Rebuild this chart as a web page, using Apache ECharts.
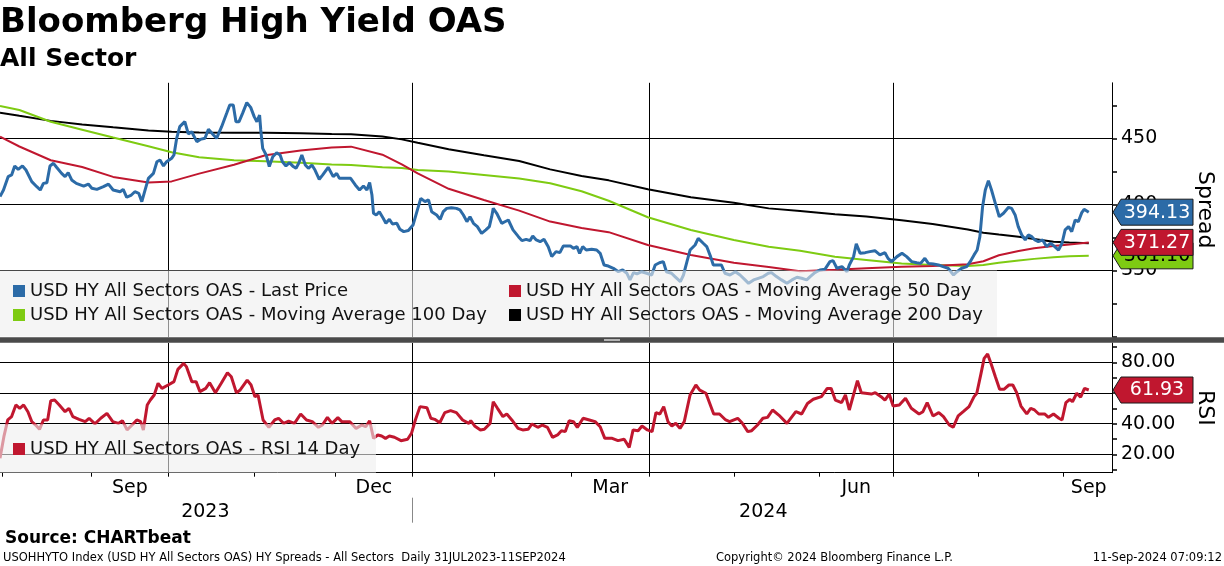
<!DOCTYPE html>
<html>
<head>
<meta charset="utf-8">
<title>Bloomberg High Yield OAS</title>
<script src="https://cdn.jsdelivr.net/npm/echarts@6/dist/echarts.min.js"></script>
<style>
  html, body { margin: 0; padding: 0; background: #fff; }
  #chart { width: 1224px; height: 566px; }
</style>
</head>
<body>
<div id="chart"></div>
<script>
// trading calendar (bond market days, weekends and these holidays skipped)
var firstDay = '2023-07-31';
var dayCount = 288;
var holidays = ['2023-09-04', '2023-11-23', '2023-12-25', '2024-01-01', '2024-01-15', '2024-02-19',
  '2024-03-29', '2024-05-27', '2024-06-19', '2024-07-04', '2024-09-02'];
var labelMonths = ['2023-09', '2023-12', '2024-03', '2024-06', '2024-09'];
var monthNames = ['Jan', 'Feb', 'Mar', 'Apr', 'May', 'Jun', 'Jul', 'Aug', 'Sep', 'Oct', 'Nov', 'Dec'];

// axis ticks / labels
var spreadTicks = [300, 325, 350, 375, 400, 425, 450, 475];
var spreadLabels = [350, 400, 450];
var rsiTicks = [10, 20, 30, 40, 50, 60, 70, 80, 90];
var rsiLabels = [20, 40, 60, 80];

var names = [
  'USD HY All Sectors OAS - Last Price',
  'USD HY All Sectors OAS - Moving Average 50 Day',
  'USD HY All Sectors OAS - Moving Average 100 Day',
  'USD HY All Sectors OAS - Moving Average 200 Day',
  'USD HY All Sectors OAS - RSI 14 Day'
];

// [trading day, spread]
var lastPrice = [[0,405.9],[0.9,410.9],[2.1,421.0],[3.0,422.3],[3.8,429.1],[4.7,426.5],[5.8,429.1],[6.7,426.0],
  [8.2,417.2],[9.5,413.4],[10.4,410.9],[11.2,415.9],[12.1,416.4],[12.9,429.1],[13.8,431.1],[14.6,428.1],
  [15.9,423.5],[16.8,421.0],[17.6,424.0],[18.5,418.5],[19.7,415.9],[21.6,413.9],[22.8,415.4],[23.7,412.2],
  [25.0,411.4],[26.7,413.4],[28.0,415.4],[29.2,410.9],[31.0,409.6],[31.8,411.4],[32.7,405.4],[33.9,407.1],
  [34.8,409.6],[35.8,408.4],[36.6,402.1],[37.2,408.4],[38.3,419.7],[39.6,423.5],[40.5,432.3],[41.3,433.6],
  [42.2,429.1],[43.0,432.3],[44.3,434.9],[44.9,437.4],[45.6,450.0],[46.4,458.8],[47.7,462.6],[48.6,453.3],
  [49.5,455.0],[49.9,452.5],[50.8,447.5],[51.7,449.2],[52.9,450.0],[53.8,456.8],[55.1,452.5],[55.9,450.0],
  [57.2,458.8],[58.5,468.9],[59.3,475.2],[60.2,475.2],[60.9,462.6],[61.7,462.6],[62.6,468.9],[63.7,477.0],
  [64.7,473.4],[65.6,466.4],[66.3,462.6],[67.0,467.6],[67.3,456.3],[67.8,442.4],[68.7,437.4],[69.5,428.6],
  [70.4,436.1],[71.4,439.1],[72.3,437.4],[72.9,432.3],[73.8,429.1],[74.7,431.6],[75.7,428.6],[76.4,427.3],
  [77.1,431.1],[77.9,437.4],[78.8,429.8],[79.6,427.3],[80.5,429.8],[81.3,426.0],[82.4,419.0],[83.3,422.3],
  [84.7,428.1],[86.0,421.0],[86.9,423.5],[87.6,419.7],[88.6,419.7],[90.5,419.7],[91.7,414.7],[92.8,410.9],
  [93.8,413.9],[94.7,410.9],[95.4,416.5],[96.0,407.1],[96.4,393.3],[97.1,392.0],[97.9,394.5],[98.9,389.5],
  [99.6,385.7],[100.5,388.7],[101.3,385.2],[102.4,385.7],[103.2,381.2],[104.2,379.4],[105.4,380.2],[106.6,384.4],
  [107.6,394.5],[108.6,404.6],[109.7,402.1],[110.6,403.4],[111.4,394.5],[112.7,392.0],[113.6,388.7],[114.4,394.5],
  [115.3,397.0],[116.5,397.5],[117.8,397.0],[118.7,395.8],[119.6,392.0],[120.5,387.0],[121.3,390.7],[122.2,385.7],
  [123.2,383.2],[124.3,378.1],[125.4,380.7],[126.3,383.2],[126.9,390.7],[127.3,397.0],[128.2,393.3],[129.5,385.7],
  [130.3,386.9],[131.2,388.2],[132.4,380.7],[133.8,375.6],[134.7,372.6],[135.8,373.6],[136.8,372.6],[137.5,376.1],
  [138.4,373.1],[139.4,371.8],[140.4,373.6],[141.5,368.0],[142.4,360.5],[143.5,364.3],[144.5,363.5],[145.4,368.6],
  [147.2,368.6],[148.0,366.8],[148.9,368.1],[149.6,363.0],[150.4,368.1],[151.3,365.5],[152.7,366.0],[154.0,365.5],
  [154.9,363.0],[155.9,354.2],[157.0,353.4],[158.3,351.7],[159.6,349.1],[160.7,350.4],[161.8,347.9],[162.6,342.9],
  [163.5,348.4],[164.4,347.4],[165.6,349.1],[166.9,347.9],[168.2,346.6],[169.1,354.2],[170.2,355.9],[171.2,356.7],
  [172.0,349.1],[173.3,347.9],[174.2,345.4],[175.6,341.6],[176.4,346.6],[177.3,356.7],[178.1,365.5],[179.4,369.3],
  [180.2,374.3],[181.5,370.6],[182.4,368.1],[183.4,360.5],[184.1,354.2],[185.4,354.2],[186.2,354.2],[187.1,347.9],
  [188.4,346.6],[189.8,349.1],[191.0,346.6],[192.3,342.9],[193.2,340.3],[194.5,342.9],[195.7,344.1],[197.0,345.4],
  [198.3,347.9],[199.1,348.4],[200.4,345.4],[201.7,342.9],[203.1,340.3],[204.4,342.9],[205.7,344.9],[206.9,344.1],
  [208.2,342.9],[209.1,345.4],[210.3,348.4],[211.6,350.4],[212.9,350.9],[214.2,356.7],[215.0,357.5],[216.0,351.7],
  [217.3,352.9],[218.6,349.1],[219.2,354.2],[220.3,360.5],[221.0,370.1],[222.0,363.0],[223.3,363.5],[224.5,364.3],
  [225.8,365.0],[227.1,361.8],[228.4,363.5],[229.2,359.2],[230.1,356.7],[231.5,360.5],[232.8,363.0],[234.0,360.5],
  [235.3,356.7],[236.6,355.9],[237.6,355.4],[238.7,359.2],[239.6,355.4],[240.9,354.9],[242.2,354.2],[243.4,352.9],
  [244.7,351.7],[246.1,346.6],[247.0,349.1],[248.2,351.7],[249.5,352.9],[250.4,356.7],[251.4,361.8],[252.2,365.5],
  [252.9,375.6],[253.6,398.3],[254.3,410.9],[255.1,418.0],[255.9,410.9],[257.0,399.6],[257.9,390.7],[259.0,393.3],
  [260.3,397.8],[261.1,397.0],[262.0,392.0],[262.8,383.2],[263.7,376.9],[264.6,373.1],[265.4,376.9],[266.3,375.6],
  [267.1,373.1],[268.0,371.8],[269.1,373.1],[270.1,368.1],[271.1,370.6],[272.0,368.6],[273.2,365.5],[274.1,370.6],
  [274.9,380.7],[275.8,383.2],[276.6,379.4],[277.5,388.2],[278.3,386.9],[279.2,393.8],[279.8,396.3],[281,394.13]];

// moving averages, sampled on the same trading days
var maDay = [0, 5, 13.1, 21.2, 29.2, 38.3, 44.3, 51.4, 60.4, 68.5, 77.6, 85.6, 90.6, 98.7, 103.7, 107.8, 115.8,
  124.9, 134, 142, 150.1, 157.1, 167.2, 178.3, 189.4, 198.4, 206.5, 215.5, 223.6, 232.7, 240.7, 249.8, 253.8,
  257.8, 262.9, 266.9, 271.9, 276, 281];
var ma50 = [451.2, 443.8, 433.4, 428.3, 420.8, 416.6, 417.4, 423.3, 430.0, 437.2, 440.7, 443.1, 443.7, 437.6,
  430.3, 423.5, 411.8, 403.3, 395.3, 387.0, 382.2, 379.0, 369.3, 361.7, 355.9, 352.7, 349.5, 350.5, 351.7, 352.9,
  353.4, 354.8, 357.0, 361.5, 364.8, 366.9, 368.5, 369.6, 371.27];
var ma100 = [474.4, 471.4, 462.5, 456.5, 450.6, 444.0, 439.4, 435.7, 433.4, 432.7, 431.5, 430.2, 429.8, 428.2,
  427.6, 426.0, 424.9, 422.3, 419.6, 416.0, 410.0, 402.8, 390.3, 380.6, 373.1, 367.9, 365.0, 360.4, 358.0, 355.3,
  354.2, 353.4, 354.2, 355.8, 357.6, 358.8, 360.0, 360.8, 361.10];
var ma200 = [469.4, 467.0, 463.2, 460.5, 458.3, 456.0, 455.0, 454.4, 454.3, 454.2, 453.8, 453.3, 453.0, 451.3,
  449.2, 446.6, 441.8, 437.2, 432.8, 426.5, 421.5, 418.2, 411.5, 405.4, 401.3, 397.0, 395.0, 392.5, 390.8, 388.1,
  385.2, 381.0, 378.6, 377.2, 375.5, 373.8, 371.8, 371.2, 370.6];

// [trading day, RSI 14]
var rsi14 = [[0,17.4],[1.0,31.5],[2.0,42.4],[3.0,44.6],[4.1,52.2],[5.1,50.0],[6.1,52.2],[7.2,47.8],[8.2,41.3],
  [9.2,39.1],[10.2,36.3],[11.2,42.4],[12.3,42.4],[13.1,55.0],[14.1,55.4],[15.3,52.2],[16.8,47.8],[17.8,50.0],
  [18.8,44.6],[20.4,42.8],[22.0,41.3],[23.0,43.5],[24.5,39.8],[26.0,43.5],[27.6,46.7],[29.1,41.3],[30.6,40.2],
  [31.6,41.9],[32.8,35.9],[34.1,39.1],[35.3,42.4],[36.3,41.3],[37.0,35.9],[38.0,52.2],[38.8,55.4],[39.8,58.7],
  [40.8,66.3],[41.8,63.0],[43.4,65.2],[44.9,67.4],[45.9,75.4],[47.4,79.3],[48.1,77.2],[49.5,67.4],[50.6,67.4],
  [51.6,60.9],[53.1,63.0],[54.1,66.7],[55.6,60.2],[57.1,66.3],[58.7,73.2],[59.7,70.6],[61.0,60.2],[62.0,62.0],
  [63.8,68.4],[64.8,65.2],[65.8,57.6],[66.6,58.7],[67.9,42.4],[69.4,37.6],[70.9,42.4],[71.9,43.5],[73.2,40.2],
  [74.5,41.7],[76.0,40.2],[77.6,46.3],[79.1,42.4],[80.6,41.3],[82.2,37.6],[83.2,39.1],[84.5,44.1],[85.7,40.2],
  [87.2,43.9],[88.2,41.3],[90.3,41.3],[91.9,36.9],[93.4,39.1],[94.4,38.0],[95.4,41.9],[96.4,30.4],[97.5,32.6],
  [98.5,31.9],[99.5,30.4],[100.5,31.9],[101.8,31.1],[103.5,28.9],[105.2,29.8],[106.2,33.7],[107.2,42.4],
  [108.4,51.1],[110.2,50.4],[111.2,43.5],[112.2,42.8],[113.5,40.6],[114.8,47.2],[116.3,48.5],[117.8,47.2],
  [119.4,42.4],[121.0,40.2],[121.5,41.9],[122.5,38.5],[124.0,35.9],[125.0,36.3],[126.5,40.2],[127.3,54.3],
  [128.4,50.0],[129.8,44.6],[130.8,46.3],[132.1,42.4],[133.7,36.9],[134.9,35.9],[136.3,36.3],[137.3,39.8],
  [138.8,37.6],[140.0,39.1],[141.3,37.6],[142.6,31.1],[143.9,32.6],[144.9,35.4],[145.9,34.8],[146.9,41.9],
  [148.0,41.3],[149.0,37.6],[150.5,43.5],[152.1,42.4],[153.6,41.3],[154.9,38.0],[156.1,30.4],[158.0,30.4],
  [159.5,28.9],[161.1,29.8],[162.4,24.5],[163.4,35.9],[164.7,35.4],[165.7,38.5],[167.1,35.9],[168.3,34.8],
  [169.3,47.2],[170.3,46.3],[171.3,51.1],[172.4,41.3],[173.4,38.5],[174.4,40.2],[175.5,36.9],[176.6,41.3],
  [178.1,58.7],[179.6,65.2],[180.6,61.9],[182.2,59.8],[184.2,46.3],[185.7,46.3],[187.3,42.4],[188.3,41.3],
  [190.4,43.5],[191.5,40.6],[193.0,34.8],[194.0,35.4],[195.5,39.1],[196.9,43.5],[198.1,44.1],[199.4,48.9],
  [201.0,45.6],[203.1,40.2],[205.4,47.8],[206.9,46.3],[208.4,53.2],[209.9,55.9],[212.0,57.6],[213.5,63.0],
  [214.5,63.0],[215.6,55.4],[217.2,53.7],[218.2,58.7],[219.2,48.9],[221.3,68.0],[222.3,60.2],[224.9,59.3],
  [225.9,60.2],[227.4,57.6],[228.4,55.4],[229.5,59.3],[230.5,51.5],[232.1,52.2],[233.7,56.5],[235.2,50.0],
  [237.2,46.3],[238.2,47.8],[239.3,53.7],[240.8,45.0],[242.3,47.2],[243.5,44.6],[245.0,39.1],[246.0,37.6],
  [247.3,45.0],[248.6,47.8],[250.1,51.1],[251.4,57.6],[252.1,59.8],[253.2,72.8],[254.0,82.6],[254.9,85.4],
  [255.9,78.3],[256.9,70.6],[258.0,62.4],[259.1,62.4],[260.4,65.2],[261.4,65.2],[262.4,60.2],[263.5,51.5],
  [265.0,46.3],[266.0,50.0],[267.0,48.9],[268.1,46.3],[269.6,46.3],[270.6,44.1],[271.9,46.3],[273.3,43.5],
  [274.1,42.4],[275.1,53.7],[276.1,55.9],[276.8,54.3],[277.9,59.8],[278.9,57.2],[279.9,63.0],[281,61.93]];

var FONT = 'DejaVu Sans';
var BLUE = '#2c6ba7', RED = '#c0172f', GREEN = '#7ecb12', BLACK = '#000';

// ---- build calendar helpers ----
var tradingDays = [];
var d = new Date(firstDay + 'T00:00:00Z');
while (tradingDays.length < dayCount) {
  var iso = d.toISOString().slice(0, 10);
  var wd = d.getUTCDay();
  if (wd !== 0 && wd !== 6 && holidays.indexOf(iso) < 0) tradingDays.push(iso);
  d.setUTCDate(d.getUTCDate() + 1);
}
var monthTicks = [], quarterLines = [], yearBreaks = [];
var monthGroups = {}, yearGroups = {};
tradingDays.forEach(function (day, i) {
  var m = day.slice(0, 7), y = day.slice(0, 4);
  if (i > 0 && m !== tradingDays[i - 1].slice(0, 7)) {
    monthTicks.push(i - 0.5);
    var mm = +day.slice(5, 7);
    if (mm % 3 === 1) quarterLines.push(i - 0.5);
    if (mm === 1) yearBreaks.push(i - 0.5);
  }
  (monthGroups[m] = monthGroups[m] || []).push(i);
  (yearGroups[y] = yearGroups[y] || []).push(i);
});
function mean(a) { return a.reduce(function (s, v) { return s + v; }, 0) / a.length; }
var monthLabelPos = labelMonths.map(function (m) { return mean(monthGroups[m]); });
var monthLabelText = labelMonths.map(function (m) { return monthNames[+m.slice(5, 7) - 1]; });
var yearLabelText = Object.keys(yearGroups);
var yearLabelPos = yearLabelText.map(function (y) { return mean(yearGroups[y]); });
function nearest(pos, text) {
  return function (v) {
    var best = 0;
    pos.forEach(function (p, k) { if (Math.abs(p - v) < Math.abs(pos[best] - v)) best = k; });
    return text[best];
  };
}
function pairs(xs, ys) { return xs.map(function (x, i) { return [x, ys[i]]; }); }

var xMax = dayCount - 1;
var gridLine = { color: '#000', width: 1, type: 'solid' };

function gridSeries(idx, hValues) {
  return {
    type: 'line', xAxisIndex: idx, yAxisIndex: idx, data: [], silent: true,
    markLine: {
      silent: true, symbol: ['none', 'none'], z: 1, animation: false,
      label: { show: false }, lineStyle: gridLine, emphasis: { disabled: true },
      data: quarterLines.map(function (v) { return { xAxis: v }; })
        .concat(hValues.map(function (v) { return { yAxis: v }; }))
    }
  };
}
function lineSeries(name, data, color, width, idx) {
  return {
    name: name, type: 'line', xAxisIndex: idx, yAxisIndex: idx, data: data,
    color: color, showSymbol: false, symbol: 'none', silent: true, z: 2,
    lineStyle: { color: color, width: width }, itemStyle: { color: color }
  };
}
var legendBase = {
  orient: 'vertical', itemWidth: 12, itemHeight: 12, itemGap: 4, icon: 'rect', padding: 0,
  selectedMode: false, textStyle: { fontFamily: FONT, fontSize: 18, color: '#111', lineHeight: 20 }
};

var chart = echarts.init(document.getElementById('chart'), null, { renderer: 'canvas' });
var option = {
  animation: false,
  backgroundColor: '#fff',
  textStyle: { fontFamily: FONT },
  grid: [
    { left: 0, top: 82.8, width: 1112, height: 253.8, containLabel: false, outerBoundsMode: 'none' },
    { left: 0, top: 343, width: 1112, height: 129.7, containLabel: false, outerBoundsMode: 'none' }
  ],
  xAxis: [
    { gridIndex: 0, type: 'value', min: 0, max: xMax, show: false, splitLine: { show: false },
      axisLine: { onZero: false } },
    {
      gridIndex: 1, type: 'value', min: 0, max: xMax, position: 'bottom',
      axisLine: { show: true, onZero: false, lineStyle: { color: '#000', width: 1 } },
      axisTick: { show: true, customValues: monthTicks, length: 4, lineStyle: { color: '#000' } },
      axisLabel: { customValues: monthLabelPos, formatter: nearest(monthLabelPos, monthLabelText),
        fontFamily: FONT, fontSize: 19, color: '#000', margin: 6 },
      splitLine: { show: false }
    },
    {
      gridIndex: 1, type: 'value', min: 0, max: xMax, position: 'bottom', offset: 25,
      axisLine: { show: false, onZero: false },
      axisTick: { show: true, customValues: yearBreaks, length: 25, lineStyle: { color: '#888' } },
      axisLabel: { customValues: yearLabelPos, formatter: nearest(yearLabelPos, yearLabelText),
        fontFamily: FONT, fontSize: 19, color: '#000', margin: 5 },
      splitLine: { show: false }
    }
  ],
  yAxis: [
    {
      gridIndex: 0, type: 'value', position: 'right', min: 300, max: 492,
      axisLine: { show: true, onZero: false, lineStyle: { color: '#000', width: 1 } },
      axisTick: { show: true, inside: false, customValues: spreadTicks, length: 5, lineStyle: { color: '#000', width: 1.5 } },
      axisLabel: { customValues: spreadLabels, fontFamily: FONT, fontSize: 19, color: '#000', margin: 9 },
      splitLine: { show: false },
      name: 'Spread', nameLocation: 'middle', nameRotate: -90, nameGap: 82,
      nameTextStyle: { fontFamily: FONT, fontSize: 22, color: '#000' }
    },
    {
      gridIndex: 1, type: 'value', position: 'right', min: 8, max: 92.6,
      axisLine: { show: true, onZero: false, lineStyle: { color: '#000', width: 1 } },
      axisTick: { show: true, inside: false, customValues: rsiTicks, length: 5, lineStyle: { color: '#000', width: 1.5 } },
      axisLabel: { customValues: rsiLabels, fontFamily: FONT, fontSize: 19, color: '#000', margin: 9,
        formatter: function (v) { return v.toFixed(2); } },
      splitLine: { show: false },
      name: 'RSI', nameLocation: 'middle', nameRotate: -90, nameGap: 82,
      nameTextStyle: { fontFamily: FONT, fontSize: 22, color: '#000' }
    }
  ],
  legend: [
    Object.assign({}, legendBase, { data: [names[0], names[2]], left: 13, top: 281 }),
    Object.assign({}, legendBase, { data: [names[1], names[3]], left: 509, top: 281 }),
    Object.assign({}, legendBase, { data: [names[4]], left: 13, top: 439 })
  ],
  series: [
    gridSeries(0, spreadLabels),
    gridSeries(1, rsiLabels),
    lineSeries(names[3], pairs(maDay, ma200), BLACK, 2, 0),
    lineSeries(names[2], pairs(maDay, ma100), GREEN, 2, 0),
    lineSeries(names[1], pairs(maDay, ma50), RED, 2, 0),
    lineSeries(names[0], lastPrice, BLUE, 3, 0),
    lineSeries(names[4], rsi14, RED, 3, 1)
  ]
};
chart.setOption(option);

// decorations, titles and the last-value tags on the right axis
function text(x, y, str, font, align) {
  return { type: 'text', x: x, y: y, z: 20, silent: true,
    style: { text: str, font: font, fill: '#000', align: align || 'left', verticalAlign: 'middle',
      textAlign: align || 'left', textVerticalAlign: 'middle' } };
}
var elements = [
  { type: 'rect', z: 3, silent: true, shape: { x: 0, y: 270.5, width: 997, height: 66 },
    style: { fill: 'rgba(238,238,238,0.6)' } },
  { type: 'rect', z: 3, silent: true, shape: { x: 0, y: 424.3, width: 376, height: 48.4 },
    style: { fill: 'rgba(238,238,238,0.6)' } },
  { type: 'rect', z: 5, silent: true, shape: { x: 0, y: 337.2, width: 1224, height: 5.5 },
    style: { fill: '#4a4a4a' } },
  { type: 'rect', z: 6, silent: true, shape: { x: 604, y: 339, width: 16, height: 2 },
    style: { fill: '#b5b5b5' } },
  text(0, 23, 'Bloomberg High Yield OAS', 'bold 34px "DejaVu Sans"'),
  text(0, 59.5, 'All Sector', 'bold 25px "DejaVu Sans"'),
  text(5, 538.5, 'Source: CHARTbeat', 'bold 17px "DejaVu Sans"'),
  text(3, 558.5, 'USOHHYTO Index (USD HY All Sectors OAS) HY Spreads - All Sectors  Daily 31JUL2023-11SEP2024',
    '11.5px "DejaVu Sans"'),
  text(716, 558.5, 'Copyright\u00a9 2024 Bloomberg Finance L.P.', '11.5px "DejaVu Sans"'),
  text(1222, 558.5, '11-Sep-2024 07:09:12', '11.5px "DejaVu Sans"', 'right')
];
var tags = [
  { axis: 0, value: ma100[ma100.length - 1], fill: GREEN, color: '#000' },
  { axis: 0, value: ma50[ma50.length - 1], fill: RED, color: '#fff' },
  { axis: 0, value: lastPrice[lastPrice.length - 1][1], fill: BLUE, color: '#fff' },
  { axis: 1, value: rsi14[rsi14.length - 1][1], fill: RED, color: '#fff' }
];
tags.forEach(function (t, k) {
  var y = chart.convertToPixel({ yAxisIndex: t.axis }, t.value);
  elements.push({
    type: 'polygon', z: 30 + k, silent: true,
    shape: { points: [[1113, y], [1121, y - 13], [1193, y - 13], [1193, y + 13], [1121, y + 13]] },
    style: { fill: t.fill, stroke: '#1a1a1a', lineWidth: 1 }
  });
  var label = text(1157, y + 0.5, t.value.toFixed(2), '19px "DejaVu Sans"', 'center');
  label.z = 30 + k;
  label.style.fill = t.color;
  elements.push(label);
});
chart.setOption({ graphic: { elements: elements } });
</script>
</body>
</html>
